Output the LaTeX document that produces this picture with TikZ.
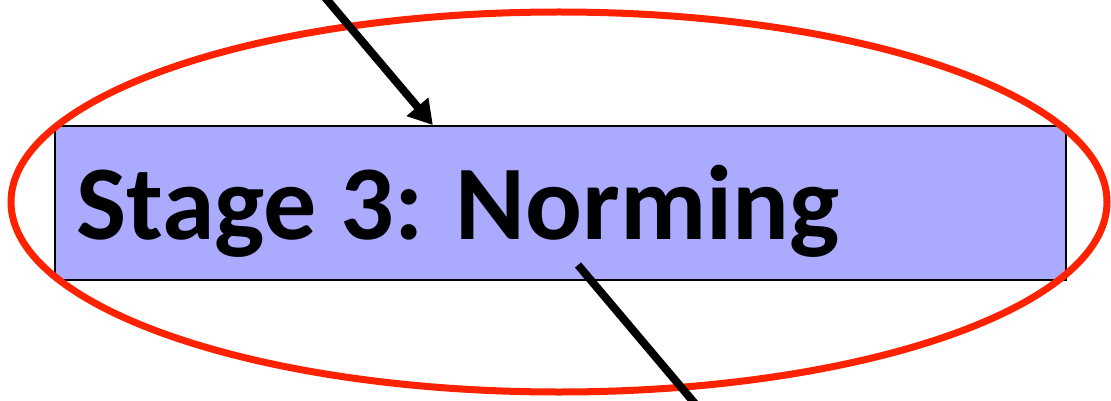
\documentclass[tikz,border=0pt]{standalone}
\usepackage{fontspec}
\setmainfont{Carlito}
\usetikzlibrary{arrows.meta,shapes.geometric,calc}
\definecolor{stageBlue}{RGB}{170,170,255}
\definecolor{focusRed}{RGB}{255,34,0}
\begin{document}
\begin{tikzpicture}[
        x=1pt, y=-1pt,
        stageNode/.style={rectangle, draw, line width=1.8pt, fill=stageBlue, minimum width=1011pt, minimum height=154pt, inner sep=0pt},
        titleText/.style={anchor=base west, inner sep=0pt, font=\bfseries\fontsize{106}{120}\selectfont},
        focusNode/.style={ellipse, draw=focusRed, line width=7pt, minimum width=1096pt, minimum height=380pt, inner sep=0pt},
        line/.style={line width=8pt},
        arrow/.style={line, -{Triangle[length=24pt, width=27pt]}}
    ]
        \useasboundingbox (0,0) rectangle (1111,401);

        \node[stageNode] (stage) at (560.5,203) {};
        \node[titleText] (title) at (76,239) {Stage 3: Norming};
        \node[focusNode] (focus) at (559,202) {};

        \coordinate (inTop) at (323,-5);
        \coordinate (inTip) at ($(stage.north west)!0.374!(stage.north east)$);
        \coordinate (outStart) at (578,265);
        \coordinate (outEnd) at (697,406);

        \draw[arrow] (inTop) -- (inTip);
        \draw[line] (outStart) -- (outEnd);
    \end{tikzpicture}
\end{document}
